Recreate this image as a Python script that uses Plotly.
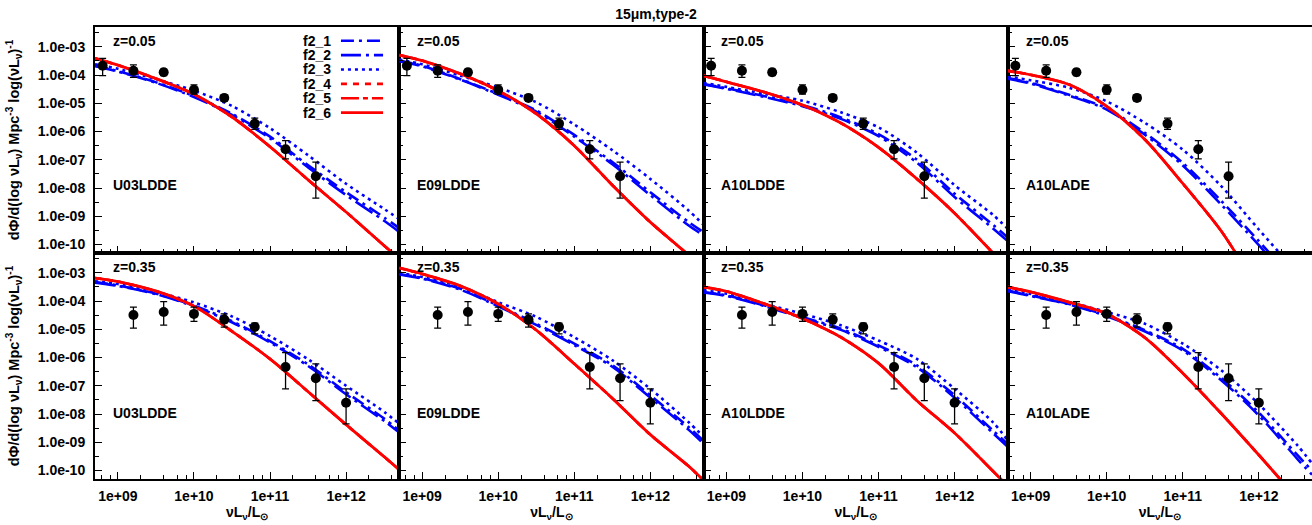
import math
import plotly.graph_objects as go
from plotly.subplots import make_subplots

TITLE = "15μm,type-2"
MODELS = ["U03LDDE", "E09LDDE", "A10LDDE", "A10LADE"]
REDSHIFTS = ["z=0.05", "z=0.35"]
SERIES = ["f2_1", "f2_2", "f2_3", "f2_4", "f2_5", "f2_6"]
X_TICKS = [1e9, 1e10, 1e11, 1e12]
X_TICK_TEXT = ["1e+09", "1e+10", "1e+11", "1e+12"]
Y_TICKS = [1e-3, 1e-4, 1e-5, 1e-6, 1e-7, 1e-8, 1e-9, 1e-10]
Y_TICK_TEXT = ["1.0e-03", "1.0e-04", "1.0e-05", "1.0e-06", "1.0e-07", "1.0e-08", "1.0e-09", "1.0e-10"]
Y_LABEL = "dΦ/d(log νL<sub>ν</sub>) Mpc<sup>-3</sup> log(νL<sub>ν</sub>)<sup>-1</sup>"
X_LABEL = "νL<sub>ν</sub>/L<sub>⊙</sub>"

# ---- observed points (same in every panel of a row) ----
L_OBS_Z005 = [6.3e8, 1.6e9, 4.0e9, 1.0e10, 2.5e10, 6.3e10, 1.6e11, 4.0e11]
PHI_OBS_Z005 = [2.14e-4, 1.41e-4, 1.26e-4, 3.0e-5, 1.55e-5, 1.9e-6, 2.35e-7, 2.6e-8]
PHI_HI_Z005 = [3.9e-4, 2.3e-4, 1.6e-4, 4.5e-5, 1.95e-5, 3.0e-6, 4.8e-7, 8.3e-8]
PHI_LO_Z005 = [9.5e-5, 8.3e-5, 9.5e-5, 2.1e-5, 1.2e-5, 1.2e-6, 1.07e-7, 4.4e-9]

L_OBS_Z035 = [1.6e9, 4.0e9, 1.0e10, 2.5e10, 6.3e10, 1.6e11, 4.0e11, 1.0e12]
PHI_OBS_Z035 = [3.2e-5, 4.1e-5, 3.5e-5, 2.2e-5, 1.2e-5, 4.6e-7, 1.85e-7, 2.5e-8]
PHI_HI_Z035 = [6.1e-5, 9.6e-5, 6.1e-5, 3.5e-5, 1.65e-5, 1.5e-6, 6.0e-7, 7.8e-8]
PHI_LO_Z035 = [1.1e-5, 1.4e-5, 1.9e-5, 1.2e-5, 6.9e-6, 7.8e-8, 3.0e-8, 4.5e-9]

# ---- model curves, sampled at L_CURVE ----
L_CURVE = [5e8, 1e9, 3.2e9, 1e10, 3.2e10, 1e11, 3.2e11, 1e12, 3.2e12, 5e12]

U03_Z005_F21 = [2.14e-4, 1.38e-4, 5.5e-5, 1.78e-5, 4.17e-6, 6.6e-7, 6.3e-8, 7.1e-9, 8.9e-10, 3.8e-10]
U03_Z005_F22 = [2.04e-4, 1.32e-4, 5.25e-5, 1.66e-5, 3.8e-6, 5.75e-7, 5.25e-8, 5.6e-9, 6.8e-10, 2.8e-10]
U03_Z005_F23 = [2.4e-4, 1.66e-4, 7.1e-5, 2.8e-5, 7.9e-6, 1.32e-6, 1.41e-7, 1.41e-8, 1.78e-9, 7.9e-10]
U03_Z005_RED = [3.9e-4, 2.24e-4, 7.4e-5, 2.1e-5, 3.2e-6, 2.9e-7, 1.9e-8, 1.41e-9, 8.9e-11, 3.2e-11]

E09_Z005_F21 = [3.24e-4, 2.14e-4, 7.1e-5, 2.14e-5, 5.5e-6, 7.6e-7, 8.1e-8, 7.1e-9, 6.2e-10, 2.75e-10]
E09_Z005_F22 = [3.1e-4, 2.04e-4, 6.8e-5, 2.0e-5, 5.0e-6, 6.6e-7, 6.8e-8, 5.6e-9, 4.7e-10, 2.1e-10]
E09_Z005_F23 = [3.55e-4, 2.4e-4, 9.5e-5, 3.6e-5, 1.07e-5, 1.78e-6, 2.14e-7, 2.1e-8, 1.58e-9, 5.0e-10]
E09_Z005_RED = [5.1e-4, 3.24e-4, 1.1e-4, 2.8e-5, 4.17e-6, 3.16e-7, 1.23e-8, 6.2e-10, 4.2e-11, 1.38e-11]

A10D_Z005_F21 = [4.8e-5, 3.4e-5, 1.78e-5, 8.7e-6, 3.16e-6, 8.1e-7, 1.0e-7, 6.3e-9, 5.0e-10, 1.78e-10]
A10D_Z005_F22 = [4.6e-5, 3.24e-5, 1.66e-5, 7.9e-6, 2.8e-6, 6.9e-7, 7.9e-8, 4.8e-9, 3.7e-10, 1.32e-10]
A10D_Z005_F23 = [5.25e-5, 3.8e-5, 2.14e-5, 1.23e-5, 4.8e-6, 1.41e-6, 1.78e-7, 1.26e-8, 1.12e-9, 3.6e-10]
A10D_Z005_RED = [9.5e-5, 5.75e-5, 2.45e-5, 8.7e-6, 2.0e-6, 2.75e-7, 2.1e-8, 1.29e-9, 5.0e-11, 1.41e-11]

A10A_Z005_F21 = [7.8e-5, 5.25e-5, 2.0e-5, 6.6e-6, 8.9e-7, 7.8e-8, 3.5e-9, 1.32e-10, 4.0e-12, 1.0e-12]
A10A_Z005_F22 = [7.4e-5, 5.0e-5, 1.86e-5, 6.0e-6, 7.6e-7, 6.3e-8, 2.6e-9, 9.5e-11, 2.8e-12, 6.3e-13]
A10A_Z005_F23 = [8.9e-5, 6.5e-5, 3.55e-5, 1.17e-5, 2.0e-6, 2.3e-7, 1.17e-8, 3.4e-10, 1.0e-11, 2.5e-12]
A10A_Z005_RED = [1.41e-4, 1.02e-4, 4.6e-5, 7.8e-6, 5.1e-7, 1.45e-8, 3.0e-10, 2.6e-12, 3.2e-14, 5.0e-15]

U03_Z035_F21 = [4.7e-4, 3.55e-4, 1.82e-4, 6.9e-5, 1.9e-5, 3.8e-6, 5.6e-7, 5.9e-8, 6.8e-9, 2.6e-9]
U03_Z035_F22 = [4.5e-4, 3.4e-4, 1.74e-4, 6.5e-5, 1.74e-5, 3.4e-6, 4.9e-7, 5.0e-8, 5.6e-9, 2.2e-9]
U03_Z035_F23 = [5.0e-4, 4.0e-4, 2.1e-4, 8.9e-5, 2.8e-5, 5.75e-6, 8.5e-7, 1.0e-7, 1.17e-8, 4.5e-9]
U03_Z035_RED = [6.5e-4, 4.9e-4, 2.24e-4, 6.6e-5, 8.3e-6, 8.9e-7, 6.0e-8, 4.2e-9, 3.0e-10, 1.07e-10]

E09_Z035_F21 = [9.1e-4, 6.5e-4, 2.7e-4, 6.9e-5, 1.55e-5, 3.1e-6, 5.25e-7, 4.6e-8, 3.4e-9, 1.12e-9]
E09_Z035_F22 = [8.7e-4, 6.2e-4, 2.5e-4, 6.5e-5, 1.41e-5, 2.75e-6, 4.6e-7, 3.8e-8, 2.75e-9, 8.9e-10]
E09_Z035_F23 = [1.0e-3, 7.1e-4, 3.16e-4, 9.1e-5, 2.7e-5, 5.25e-6, 7.9e-7, 7.8e-8, 5.1e-9, 1.58e-9]
E09_Z035_RED = [1.48e-3, 9.1e-4, 3.4e-4, 7.9e-5, 9.1e-6, 6.0e-7, 3.5e-8, 1.86e-9, 1.41e-10, 4.5e-11]

A10D_Z035_F21 = [2.1e-4, 1.58e-4, 6.9e-5, 2.7e-5, 1.05e-5, 2.7e-6, 5.25e-7, 4.6e-8, 2.6e-9, 8.7e-10]
A10D_Z035_F22 = [2.0e-4, 1.51e-4, 6.6e-5, 2.5e-5, 9.5e-6, 2.4e-6, 4.5e-7, 3.8e-8, 2.1e-9, 6.9e-10]
A10D_Z035_F23 = [2.4e-4, 1.82e-4, 7.9e-5, 3.55e-5, 1.38e-5, 4.0e-6, 8.9e-7, 7.8e-8, 5.1e-9, 1.15e-9]
A10D_Z035_RED = [3.16e-4, 2.2e-4, 7.9e-5, 2.4e-5, 5.25e-6, 6.3e-7, 2.95e-8, 2.14e-9, 9.5e-11, 2.8e-11]

A10A_Z035_F21 = [2.35e-4, 1.58e-4, 7.9e-5, 3.1e-5, 9.1e-6, 2.04e-6, 1.9e-7, 1.12e-8, 3.55e-10, 1.0e-10]
A10A_Z035_F22 = [2.24e-4, 1.51e-4, 7.6e-5, 2.9e-5, 8.3e-6, 1.78e-6, 1.58e-7, 8.9e-9, 2.6e-10, 7.1e-11]
A10A_Z035_F23 = [2.5e-4, 1.78e-4, 9.1e-5, 4.1e-5, 1.55e-5, 3.1e-6, 3.55e-7, 2.24e-8, 7.9e-10, 1.78e-10]
A10A_Z035_RED = [3.1e-4, 2.1e-4, 9.1e-5, 3.55e-5, 5.0e-6, 2.8e-7, 1.05e-8, 3.55e-10, 1.0e-11, 2.5e-12]

# table built from the arrays above: (row, col) -> curves for f2_1..f2_6
PANELS = {
    (1, 1): [U03_Z005_F21, U03_Z005_F22, U03_Z005_F23, U03_Z005_RED, U03_Z005_RED, U03_Z005_RED],
    (1, 2): [E09_Z005_F21, E09_Z005_F22, E09_Z005_F23, E09_Z005_RED, E09_Z005_RED, E09_Z005_RED],
    (1, 3): [A10D_Z005_F21, A10D_Z005_F22, A10D_Z005_F23, A10D_Z005_RED, A10D_Z005_RED, A10D_Z005_RED],
    (1, 4): [A10A_Z005_F21, A10A_Z005_F22, A10A_Z005_F23, A10A_Z005_RED, A10A_Z005_RED, A10A_Z005_RED],
    (2, 1): [U03_Z035_F21, U03_Z035_F22, U03_Z035_F23, U03_Z035_RED, U03_Z035_RED, U03_Z035_RED],
    (2, 2): [E09_Z035_F21, E09_Z035_F22, E09_Z035_F23, E09_Z035_RED, E09_Z035_RED, E09_Z035_RED],
    (2, 3): [A10D_Z035_F21, A10D_Z035_F22, A10D_Z035_F23, A10D_Z035_RED, A10D_Z035_RED, A10D_Z035_RED],
    (2, 4): [A10A_Z035_F21, A10A_Z035_F22, A10A_Z035_F23, A10A_Z035_RED, A10A_Z035_RED, A10A_Z035_RED],
}
OBS = {
    1: (L_OBS_Z005, PHI_OBS_Z005, PHI_HI_Z005, PHI_LO_Z005),
    2: (L_OBS_Z035, PHI_OBS_Z035, PHI_HI_Z035, PHI_LO_Z035),
}

BLUE = "#0000ff"
RED = "#ff0000"
STYLES = {
    "f2_1": dict(color=BLUE, dash="13px,5px,3px,5px", width=2.6),
    "f2_2": dict(color=BLUE, dash="20px,5px,3px,5px", width=2.6),
    "f2_3": dict(color=BLUE, dash="3px,4px", width=2.6),
    "f2_4": dict(color=RED, dash="6px,6px", width=2.6),
    "f2_5": dict(color=RED, dash="18px,4px,5px,4px", width=2.6),
    "f2_6": dict(color=RED, dash="solid", width=2.8),
}

FONT = "Liberation Sans, Arial, sans-serif"
TXT = dict(size=14, family=FONT, color="black", weight="bold")

fig = make_subplots(rows=2, cols=4, horizontal_spacing=0, vertical_spacing=0)

for (r, c), curves in PANELS.items():
    for name, ys in zip(SERIES, curves):
        fig.add_trace(go.Scatter(
            x=L_CURVE, y=ys, mode="lines", name=name, showlegend=False,
            line=dict(shape="spline", smoothing=0.8, **STYLES[name]),
            hoverinfo="skip"), row=r, col=c)
    lx, py, hi, lo = OBS[r]
    fig.add_trace(go.Scatter(
        x=lx, y=py, mode="markers", showlegend=False, name="data",
        marker=dict(color="black", size=10, symbol="circle"),
        error_y=dict(type="data", symmetric=False,
                     array=[h - v for h, v in zip(hi, py)],
                     arrayminus=[v - l for v, l in zip(py, lo)],
                     color="black", thickness=1.3, width=3.5)), row=r, col=c)

x_minor = [m * 10 ** e for e in range(8, 13) for m in (2, 4, 6, 8)]
y_minor = [3.162 * 10 ** e for e in range(-11, -2)]

for r in (1, 2):
    for c in range(1, 5):
        xkw = dict(
            type="log", range=[math.log10(5e8), math.log10(5e12)],
            tickmode="array", tickvals=X_TICKS, ticktext=X_TICK_TEXT,
            showticklabels=(r == 2), ticks="inside", ticklen=7, tickwidth=1,
            tickcolor="black", ticklabelstandoff=3,
            minor=dict(ticks="inside", ticklen=4, tickwidth=1, tickcolor="black",
                       tickmode="array", tickvals=x_minor, showgrid=False),
            showline=True, linecolor="black", linewidth=2, mirror=True,
            showgrid=False, zeroline=False, automargin=False, tickfont=TXT)
        if r == 2:
            xkw["title"] = dict(text=X_LABEL, standoff=3, font=TXT)
        fig.update_xaxes(row=r, col=c, **xkw)
        ykw = dict(
            type="log", range=[-10.3, -2.3],
            tickmode="array", tickvals=Y_TICKS, ticktext=Y_TICK_TEXT,
            showticklabels=(c == 1), ticks="inside", ticklen=7, tickwidth=1,
            tickcolor="black", ticklabelstandoff=5,
            minor=dict(ticks="inside", ticklen=4, tickwidth=1, tickcolor="black",
                       tickmode="array", tickvals=y_minor, showgrid=False),
            showline=True, linecolor="black", linewidth=2, mirror=True,
            showgrid=False, zeroline=False, automargin=False, tickfont=TXT)
        if c == 1:
            ykw["title"] = dict(text=Y_LABEL, standoff=15,
                                font=dict(size=14.5, family=FONT, color="black", weight="bold"))
        fig.update_yaxes(row=r, col=c, **ykw)

annotations = []
for r in (1, 2):
    for c in range(1, 5):
        idx = (r - 1) * 4 + c
        xd = "x domain" if idx == 1 else f"x{idx} domain"
        yd = "y domain" if idx == 1 else f"y{idx} domain"
        annotations.append(dict(text=REDSHIFTS[r - 1], xref=xd, yref=yd,
                                x=0.052, y=0.94, xanchor="left", yanchor="middle",
                                showarrow=False, font=TXT))
        annotations.append(dict(text=MODELS[c - 1], xref=xd, yref=yd,
                                x=0.052, y=0.30 if r == 1 else 0.29,
                                xanchor="left", yanchor="middle", showarrow=False,
                                font=TXT))

# key in the first panel (text on the left, line sample on the right)
shapes = []
key_rows = [0.9697, 0.9378, 0.9060, 0.8741, 0.8423, 0.8104]
for name, yk in zip(SERIES, key_rows):
    annotations.append(dict(text=name, xref="paper", yref="paper", x=0.1956, y=yk,
                            xanchor="right", yanchor="middle", showarrow=False,
                            font=TXT))
    st = STYLES[name]
    shapes.append(dict(type="line", xref="paper", yref="paper",
                       x0=0.2021, x1=0.2367, y0=yk, y1=yk,
                       line=dict(color=st["color"], dash=st["dash"], width=st["width"])))

fig.update_layout(
    width=1312, height=525,
    margin=dict(l=95, r=0, t=27, b=46),
    paper_bgcolor="white", plot_bgcolor="white",
    font=dict(family=FONT, size=14, color="black", weight="bold"),
    title=dict(text=TITLE, xref="container", x=0.5, xanchor="center",
               yref="container", y=1 - 14 / 525, yanchor="middle", font=TXT),
    showlegend=False,
    annotations=annotations, shapes=shapes,
)

fig.write_html("out.html", config={"displayModeBar": False},
               post_script="document.body.style.margin='0px';document.body.style.overflow='hidden';")
